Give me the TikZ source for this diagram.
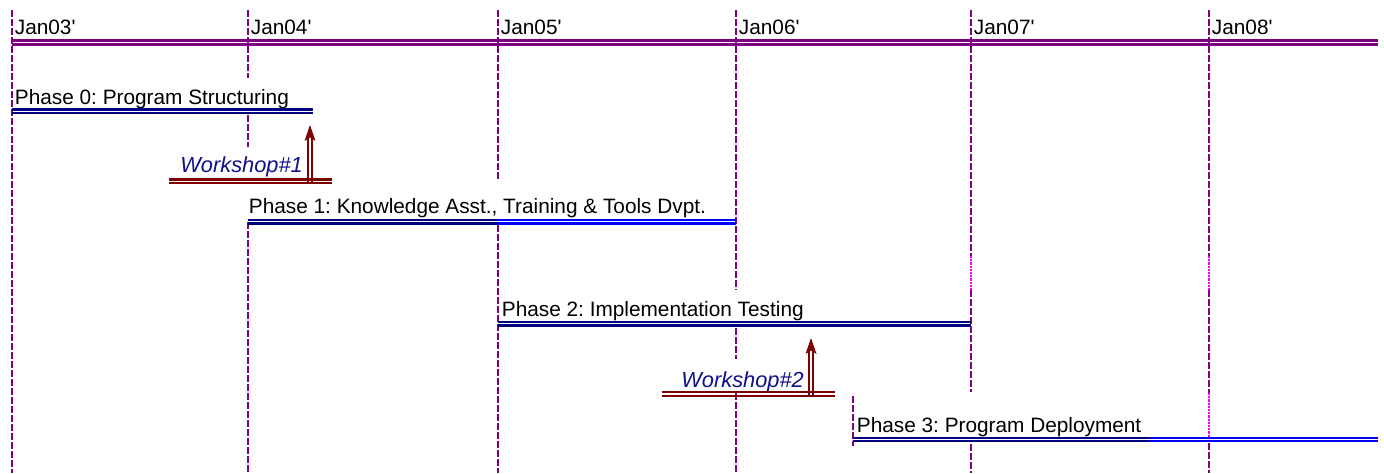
\documentclass[tikz,border=0pt]{standalone}
\usepackage{fontspec}
\setmainfont{Liberation Sans}[Ligatures=TeXOff]
\frenchspacing
\definecolor{gpurple}{HTML}{800080}
\definecolor{gmag}{HTML}{FF00FF}
\definecolor{navyc}{HTML}{000080}
\definecolor{bluec}{HTML}{0000FF}
\definecolor{redc}{HTML}{800000}
\definecolor{wsblue}{HTML}{10108C}
\tikzset{
  gridline/.style={draw=gpurple, line width=1.4pt, dash pattern=on 3.3pt off 1.2pt},
  hotline/.style={draw=gmag, line width=1.4pt, dash pattern=on 1.1pt off 0.5pt},
  topline/.style={draw=gpurple, line width=1.25pt},
  donebar/.style={draw=navyc, line width=1.15pt},
  todobar/.style={draw=bluec, line width=1.15pt},
  wsbar/.style={draw=redc, line width=1.15pt},
  wsshaft/.style={draw=redc, line width=0.85pt},
  lbl/.style={anchor=base west, inner sep=0pt, font=\fontsize{10.4}{12}\selectfont},
  wslbl/.style={anchor=base west, inner sep=0pt, text=wsblue, font=\fontsize{10.9}{13}\selectfont\itshape}
}
\begin{document}
\begin{tikzpicture}[x=0.5pt,y=-0.5pt]
\useasboundingbox[fill=white] (0,0) rectangle (1384,473);
% vertical grid lines
\draw[gridline] (12,10) -- (12,473);
\draw[gridline] (248,10) -- (248,78) (248,115) -- (248,147) (248,222) -- (248,473);
\draw[gridline] (498,10) -- (498,180) (498,225) -- (498,473);
\draw[gridline] (736,10) -- (736,290) (736,328) -- (736,359) (736,393) -- (736,473);
\draw[gridline] (971,10) -- (971,256) (971,290) -- (971,392) (971,444) -- (971,473);
\draw[hotline] (971,256) -- (971,290);
\draw[gridline] (1209,10) -- (1209,256) (1209,290) -- (1209,393) (1209,443) -- (1209,473);
\draw[hotline] (1209,256) -- (1209,290) (1209,393) -- (1209,437);
\draw[gridline] (853,396) -- (853,446);
% time axis
\draw[topline] (12,40.7) -- (1378,40.7) (12,44.3) -- (1378,44.3);
\node[lbl] (j03) at (14.5,34) {Jan03'};
\node[lbl] (j04) at (250.5,34) {Jan04'};
\node[lbl] (j05) at (500.5,34) {Jan05'};
\node[lbl] (j06) at (738.5,34) {Jan06'};
\node[lbl] (j07) at (973.5,34) {Jan07'};
\node[lbl] (j08) at (1211.5,34) {Jan08'};
% phase 0
\node[lbl] (p0) at (14.5,104) {Phase 0: Program Structuring};
\draw[donebar] (12,109.5) -- (313,109.5) (12,113.2) -- (313,113.2);
% workshop 1
\node[wslbl] (w1) at (180,172) {Workshop\#1};
\draw[wsbar] (169,179.5) -- (332,179.5) (169,183.3) -- (332,183.3);
\draw[wsshaft] (307.8,183.3) -- (307.8,136) (312.2,183.3) -- (312.2,136);
\fill[redc] (310,125) -- (315.5,141) -- (310,137.5) -- (304.5,141) -- cycle;
% phase 1
\node[lbl] (p1) at (248.5,213) {Phase 1: Knowledge Asst., Training \& Tools Dvpt.};
\draw[donebar] (248,220) -- (498,220) (248,223.6) -- (498,223.6);
\draw[todobar] (498,220) -- (736,220) (498,223.6) -- (736,223.6);
% phase 2
\node[lbl] (p2) at (501.5,316) {Phase 2: Implementation Testing};
\draw[donebar] (498,321.8) -- (971,321.8) (498,325.4) -- (971,325.4);
% workshop 2
\node[wslbl] (w2) at (681,387) {Workshop\#2};
\draw[wsbar] (662,391.8) -- (835,391.8) (662,395.8) -- (835,395.8);
\draw[wsshaft] (808.8,395.8) -- (808.8,349) (813.2,395.8) -- (813.2,349);
\fill[redc] (811,338) -- (816.5,354) -- (811,350.5) -- (805.5,354) -- cycle;
% phase 3
\node[lbl] (p3) at (856.5,432.5) {Phase 3: Program Deployment};
\draw[donebar] (853,437.7) -- (1149,437.7) (853,441.3) -- (1149,441.3);
\draw[todobar] (1149,437.7) -- (1378,437.7) (1149,441.3) -- (1378,441.3);
\end{tikzpicture}
\end{document}
